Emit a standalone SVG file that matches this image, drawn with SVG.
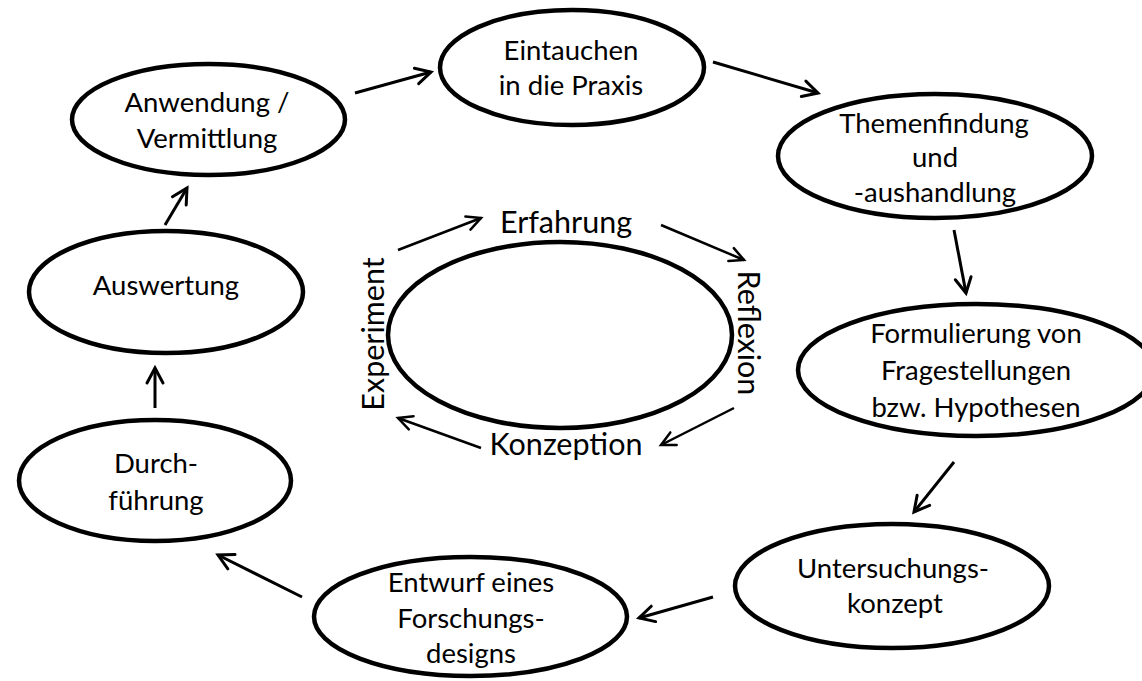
<svg xmlns="http://www.w3.org/2000/svg" width="1142" height="681" viewBox="0 0 1142 681">
<style>
.node ellipse{fill:#fff;stroke:#000;stroke-width:4.5}
.lbl{font-family:Lato,"Liberation Sans",sans-serif;font-size:27.5px;fill:#000;text-anchor:middle}
.big{font-family:Lato,"Liberation Sans",sans-serif;font-size:30.5px;fill:#000;text-anchor:middle}
.conn line{stroke:#000;stroke-width:3;fill:none}
.inner line{stroke:#000;stroke-width:2.5;fill:none}
</style>
<defs>
<marker id="ah" markerUnits="userSpaceOnUse" markerWidth="24" markerHeight="24" viewBox="0 0 24 24" refX="20" refY="12" orient="auto">
<path d="M5,4 L20,12 L5,20" fill="none" stroke="#000" stroke-width="3" stroke-linecap="round" stroke-linejoin="miter"/>
</marker>
<marker id="ahs" markerUnits="userSpaceOnUse" markerWidth="24" markerHeight="24" viewBox="0 0 24 24" refX="20" refY="12" orient="auto">
<path d="M6,5 L20,12 L6,19" fill="none" stroke="#000" stroke-width="2.5" stroke-linecap="round"/>
</marker>
</defs>
<rect width="1142" height="681" fill="#fff"/>
<g id="n-anwendung" class="node"><ellipse cx="208.5" cy="119.5" rx="136.5" ry="55.5"/><text class="lbl" x="207" y="112">Anwendung /</text><text class="lbl" x="207" y="148">Vermittlung</text></g>
<g id="n-eintauchen" class="node"><ellipse cx="572" cy="67.5" rx="132" ry="57.5"/><text class="lbl" x="571" y="60">Eintauchen</text><text class="lbl" x="571" y="95">in die Praxis</text></g>
<g id="n-themenfindung" class="node"><ellipse cx="935" cy="156" rx="157" ry="62"/><text class="lbl" x="934" y="133">Themenfindung</text><text class="lbl" x="935" y="167">und</text><text class="lbl" x="935" y="202">-aushandlung</text></g>
<g id="n-formulierung" class="node"><ellipse cx="976" cy="370" rx="178" ry="66"/><text class="lbl" x="976" y="343">Formulierung von</text><text class="lbl" x="976" y="380">Fragestellungen</text><text class="lbl" x="976" y="417">bzw. Hypothesen</text></g>
<g id="n-untersuchung" class="node"><ellipse cx="892" cy="586" rx="157" ry="62"/><text class="lbl" x="893" y="578">Untersuchungs-</text><text class="lbl" x="895" y="613">konzept</text></g>
<g id="n-entwurf" class="node"><ellipse cx="470.5" cy="616.5" rx="156.5" ry="59.5"/><text class="lbl" x="471" y="592">Entwurf eines</text><text class="lbl" x="471" y="628">Forschungs-</text><text class="lbl" x="471" y="663">designs</text></g>
<g id="n-durchfuehrung" class="node"><ellipse cx="155" cy="480.5" rx="136" ry="60.5"/><text class="lbl" x="156" y="473">Durch-</text><text class="lbl" x="156" y="510">führung</text></g>
<g id="n-auswertung" class="node"><ellipse cx="166" cy="292" rx="137" ry="61"/><text class="lbl" x="166" y="295">Auswertung</text></g>
<g id="n-zyklus" class="node"><ellipse cx="560" cy="335" rx="172" ry="93"/></g>
<g id="n-erfahrung"><text class="big" x="566" y="233">Erfahrung</text></g>
<g id="n-reflexion"><text class="big" transform="translate(738,333) rotate(90)">Reflexion</text></g>
<g id="n-konzeption"><text class="big" x="566" y="455">Konzeption</text></g>
<g id="n-experiment"><text class="big" transform="translate(384,334) rotate(-90)">Experiment</text></g>
<g id="connectors" class="conn">
<line x1="355" y1="93" x2="431" y2="72" marker-end="url(#ah)"/>
<line x1="713" y1="62" x2="818" y2="93" marker-end="url(#ah)"/>
<line x1="954" y1="230" x2="966" y2="293" marker-end="url(#ah)"/>
<line x1="954" y1="462" x2="914" y2="512" marker-end="url(#ah)"/>
<line x1="713" y1="597" x2="639" y2="618" marker-end="url(#ah)"/>
<line x1="302" y1="597" x2="218" y2="555" marker-end="url(#ah)"/>
<line x1="155" y1="408" x2="155" y2="368" marker-end="url(#ah)"/>
<line x1="165" y1="225" x2="187" y2="188" marker-end="url(#ah)"/>
<g class="inner">
<line x1="398" y1="250" x2="481" y2="218" marker-end="url(#ahs)"/>
<line x1="661" y1="225" x2="744" y2="260" marker-end="url(#ahs)"/>
<line x1="734" y1="408" x2="661" y2="445" marker-end="url(#ahs)"/>
<line x1="481" y1="448" x2="398" y2="418" marker-end="url(#ahs)"/>
</g>
</g>
</svg>
